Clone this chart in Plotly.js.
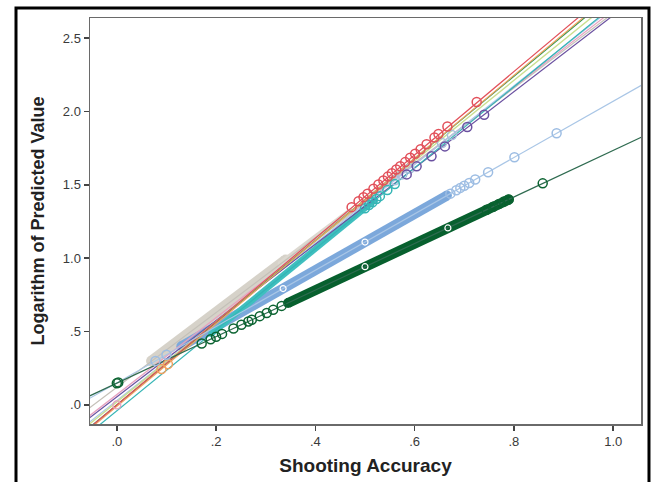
<!DOCTYPE html>
<html>
<head>
<meta charset="utf-8">
<script src="https://cdn.plot.ly/plotly-3.0.1.min.js"></script>
<style>
  html, body { margin: 0; padding: 0; background: #fff; }
  #chart { width: 657px; height: 482px; }
</style>
</head>
<body>
<div id="chart"></div>
<script>
// ---------- Data ----------
// x ticks / y ticks
const xTickVals = [0, 0.2, 0.4, 0.6, 0.8, 1.0];
const xTickText = [".0", ".2", ".4", ".6", ".8", "1.0"];
const yTickVals = [0, 0.5, 1.0, 1.5, 2.0, 2.5];
const yTickText = [".0", ".5", "1.0", "1.5", "2.0", "2.5"];

// Fit lines: end points (x at both ends of the axis range)
const fitX = [-0.06, 1.06];
const darkGreenFitY = [0.053, 1.830];
const lightBlueFitY = [0.035, 2.185];
const redFitY = [-0.170, 3.010];
const greenFitY = [-0.168, 2.968];
const yellowFitY = [-0.144, 2.924];
const tealFitY = [-0.206, 2.886];
const grayFitY = [-0.033, 2.823];
const purpleFitY = [-0.101, 2.811];
const orangeFitY = [-0.179, 2.979];
const pinkFitY = [-0.087, 2.847];
const paleBlueFitY = [-0.131, 2.871];

// Dense runs of overlapping points (drawn as solid bands)
const darkGreenBandX = [0.345, 0.79];
const darkGreenBandY = [0.695, 1.400];
const lightBlueBandX = [0.13, 0.665];
const lightBlueBandY = [0.400, 1.427];
const tealBandX = [0.19, 0.52];
const tealBandY = [0.484, 1.395];
const grayBandX = [0.07, 0.34];
const grayBandY = [0.299, 0.987];
const grayBand2X = [0.33, 0.47];
const grayBand2Y = [0.962, 1.319];

// Individual points
const darkGreenPtsX = [0, 0.003, 0.171, 0.189, 0.2, 0.212, 0.235, 0.251, 0.265, 0.272, 0.288, 0.302, 0.315, 0.332, 0.745, 0.758, 0.77, 0.78, 0.789, 0.858];
const darkGreenPtsY = [0.148, 0.153, 0.419, 0.448, 0.465, 0.484, 0.521, 0.546, 0.569, 0.580, 0.605, 0.627, 0.648, 0.675, 1.330, 1.351, 1.370, 1.386, 1.400, 1.510];
const lightBluePtsX = [0.078, 0.10, 0.672, 0.684, 0.692, 0.70, 0.71, 0.722, 0.748, 0.801, 0.886];
const lightBluePtsY = [0.300, 0.342, 1.440, 1.463, 1.479, 1.494, 1.513, 1.536, 1.586, 1.688, 1.851];
const redPtsX = [0.473, 0.487, 0.497, 0.505, 0.517, 0.527, 0.537, 0.546, 0.554, 0.563, 0.571, 0.581, 0.591, 0.601, 0.612, 0.624, 0.64, 0.648, 0.666, 0.725];
const redPtsY = [1.348, 1.388, 1.416, 1.439, 1.473, 1.502, 1.530, 1.556, 1.579, 1.604, 1.627, 1.655, 1.684, 1.712, 1.743, 1.777, 1.823, 1.846, 1.897, 2.064];
const purplePtsX = [0.584, 0.604, 0.634, 0.661, 0.706, 0.74];
const purplePtsY = [1.571, 1.626, 1.694, 1.762, 1.894, 1.978];
const tealPtsX = [0.5, 0.508, 0.515, 0.523, 0.53, 0.545, 0.56];
const tealPtsY = [1.340, 1.362, 1.381, 1.403, 1.423, 1.464, 1.506];
const paleBluePtsX = [0.56, 0.575, 0.59, 0.655, 0.675];
const paleBluePtsY = [1.531, 1.571, 1.611, 1.785, 1.839];
const orangePtsX = [0.09, 0.103];
const orangePtsY = [0.244, 0.278];
const pinkPtsX = [0.0];
const pinkPtsY = [0.0];
// points showing as white rings inside the dense runs
const greenRingX = [0.5, 0.667];
const greenRingY = [0.942, 1.206];
const blueRingX = [0.335, 0.5];
const blueRingY = [0.793, 1.110];

// ---------- Traces ----------
function band(x, y, color, w) {
  return {x: x, y: y, type: 'scatter', mode: 'lines+markers', hoverinfo: 'skip',
          line: {color: color, width: w},
          marker: {symbol: 'circle', size: w, color: color, line: {width: 0}},
          showlegend: false};
}
function fit(y, color, w) {
  return {x: fitX, y: y, type: 'scatter', mode: 'lines', hoverinfo: 'skip',
          line: {color: color, width: w || 1.2}, showlegend: false};
}
function pts(x, y, color, size, lw) {
  return {x: x, y: y, type: 'scatter', mode: 'markers', hoverinfo: 'skip',
          marker: {symbol: 'circle-open', size: size || 9, color: color,
                   line: {color: color, width: lw || 1.5}}, showlegend: false};
}

const traces = [
  band(grayBandX, grayBandY, '#d6d2c9', 11),
  band(grayBand2X, grayBand2Y, '#dcd8d0', 6),
  band(lightBlueBandX, lightBlueBandY, '#7ca8db', 10),
  band(tealBandX, tealBandY, '#3fbfbf', 6),
  band(darkGreenBandX, darkGreenBandY, '#07602e', 10),
  fit(grayFitY, '#c4c0b8'),
  fit(pinkFitY, '#e7a1bf'),
  fit(paleBlueFitY, '#a8c8e8'),
  fit(purpleFitY, '#6a50a0'),
  fit(tealFitY, '#35b5b5'),
  fit(yellowFitY, '#c9df8f', 1.4),
  fit(greenFitY, '#2e9a4e'),
  fit(orangeFitY, '#f0a060'),
  fit(redFitY, '#e2505a'),
  fit(lightBlueFitY, '#a9c6e6'),
  fit(darkGreenFitY, '#2f6b50'),
  pts(pinkPtsX, pinkPtsY, '#e7a1bf', 8, 1.2),
  pts(orangePtsX, orangePtsY, '#f0a060'),
  pts(paleBluePtsX, paleBluePtsY, '#a8c0dc'),
  pts(tealPtsX, tealPtsY, '#35b5b5'),
  pts(purplePtsX, purplePtsY, '#6a50a0'),
  pts(redPtsX, redPtsY, '#e2505a'),
  pts(lightBluePtsX, lightBluePtsY, '#9dbde3'),
  pts(darkGreenPtsX, darkGreenPtsY, '#0b6331'),
  pts(greenRingX, greenRingY, '#ffffff', 6, 1.2),
  pts(blueRingX, blueRingY, '#ffffff', 6, 1.2)
];

const fontFam = '"Liberation Sans", Arial, sans-serif';
const layout = {
  width: 657, height: 482,
  margin: {l: 90, r: 16, t: 18, b: 58, pad: 0},
  paper_bgcolor: '#ffffff', plot_bgcolor: '#ffffff',
  showlegend: false,
  xaxis: {
    range: [-0.054, 1.056], tickvals: xTickVals, ticktext: xTickText,
    ticks: 'outside', ticklen: 5, tickwidth: 1.5, tickcolor: '#444',
    showline: true, linecolor: '#6a6a6a', linewidth: 1.5, mirror: true,
    showgrid: false, zeroline: false,
    tickfont: {family: fontFam, size: 13, color: '#3a3a3a'},
    title: {text: '<b>Shooting Accuracy</b>', font: {family: fontFam, size: 19, color: '#222'}, standoff: 10}
  },
  yaxis: {
    range: [-0.13, 2.637], tickvals: yTickVals, ticktext: yTickText,
    ticks: 'outside', ticklen: 5, tickwidth: 1.5, tickcolor: '#444',
    showline: true, linecolor: '#6a6a6a', linewidth: 1.5, mirror: true,
    showgrid: false, zeroline: false,
    tickfont: {family: fontFam, size: 13, color: '#3a3a3a'},
    title: {text: '<b>Logarithm of Predicted Value</b>', font: {family: fontFam, size: 18, color: '#222'}, standoff: 13}
  },
  shapes: [
    {type: 'rect', xref: 'paper', yref: 'paper', x0: -0.1343, x1: 1.0145, y0: -0.17, y1: 1.0246,
     line: {color: '#000', width: 3}, fillcolor: 'rgba(0,0,0,0)', layer: 'above'}
  ]
};

Plotly.newPlot('chart', traces, layout, {staticPlot: true, displayModeBar: false});
</script>
</body>
</html>
